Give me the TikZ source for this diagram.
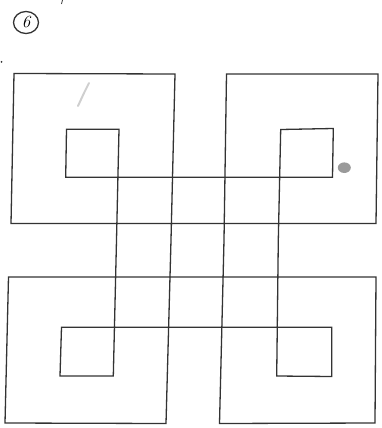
\documentclass[tikz,border=0pt]{standalone}
\usetikzlibrary{shapes.geometric}
\definecolor{ink}{HTML}{333333}
\definecolor{smudge}{HTML}{CFCFCF}
\definecolor{blob}{HTML}{9A9A9A}
\tikzset{
  pen/.style={draw=ink, line width=1.3pt, line join=miter},
  faint/.style={draw=smudge, line width=2pt, line cap=round},
}
\begin{document}
\begin{tikzpicture}[x=1pt,y=-1pt]
\useasboundingbox (0,0) rectangle (382,428);
% circled number
\node[ellipse, draw=ink, line width=1.3pt, minimum width=25pt, minimum height=22pt, inner sep=0pt] (num) at (26,22.5) {\fontsize{17}{17}\selectfont\itshape 6};
% tiny marks
\draw[draw=ink, line width=0.8pt] (62.5,0) -- (61.5,4);
\fill[ink] (1.5,62) circle (1);
% outer loop
\draw[pen] (14,73.5) -- (175,74) -- (171,240) -- (166,423.5) -- (5,423) -- (8.5,277) -- (376,277) -- (375,423) -- (219.5,423.5) -- (224,240) -- (226.5,74) -- (378,74) -- (376,223.5) -- (11,223.5) -- cycle;
% inner loop
\draw[pen] (66.5,129.3) -- (119,129.3) -- (116.5,240) -- (113.3,376) -- (60,376) -- (61.5,327.3) -- (331.7,327.3) -- (331.7,376.5) -- (276.7,376) -- (278.3,240) -- (280.7,129.5) -- (333.3,128.5) -- (332.5,177.3) -- (65.7,177.3) -- cycle;
% smudges
\draw[faint] (89,83) -- (84,93) -- (78,106);
\fill[blob] (344.3,167.7) ellipse (6.5 and 5.3);
\end{tikzpicture}
\end{document}
